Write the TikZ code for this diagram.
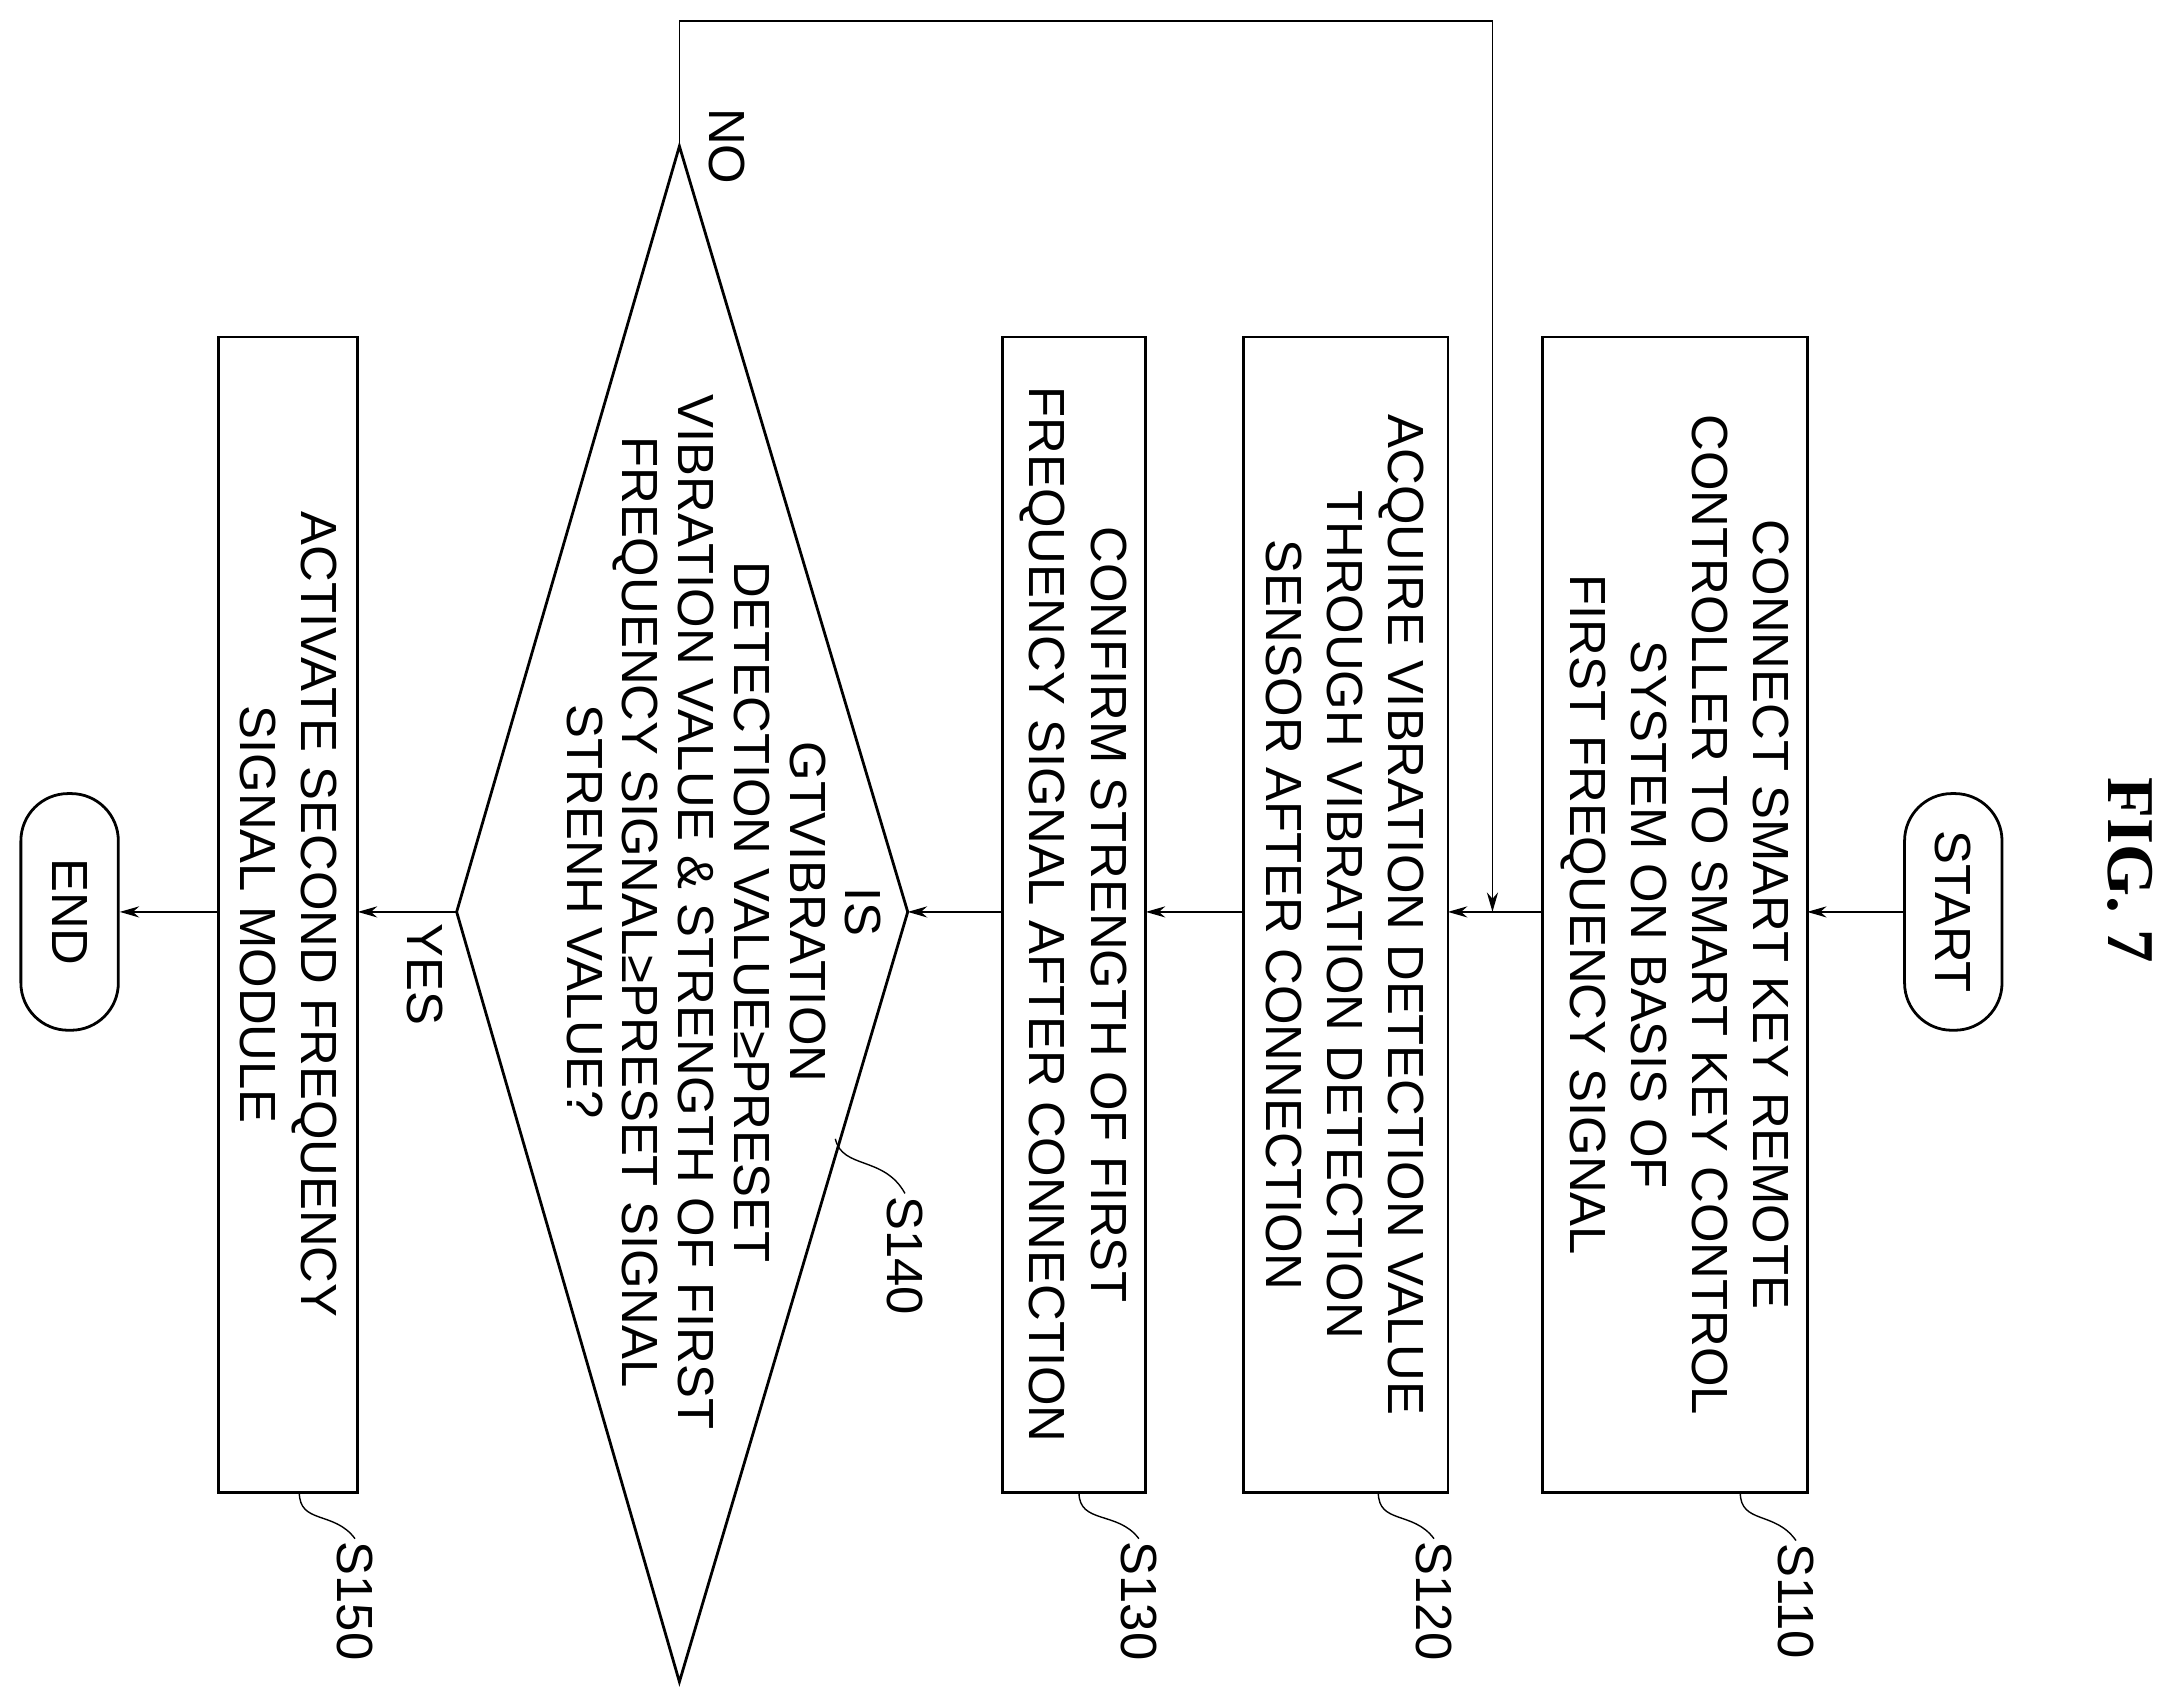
\documentclass[tikz,border=0pt]{standalone}
\usepackage{fontspec}
\setmainfont{Liberation Sans}
\newfontfamily\figfont{Liberation Serif}
\usetikzlibrary{arrows.meta}
\begin{document}
\begin{tikzpicture}[x=1pt,y=-1pt,
  every node/.style={font=\fontsize{36.5}{44}\selectfont},
  box/.style={draw,line width=2pt},
  txt/.style={rotate=-90,align=center,inner sep=0},
  term/.style={draw,line width=2pt,rounded corners=34pt,rotate=-90,minimum width=170pt,minimum height=70pt,inner sep=0},
  arr/.style={line width=1pt,-{Stealth[length=14pt,width=8pt]}},
  lead/.style={line width=1pt},
  lab/.style={rotate=-90,inner sep=2pt}]
\useasboundingbox (0,0) rectangle (1568,1223);
\node[rotate=-90,font=\figfont\fontsize{48}{50}\selectfont\bfseries] (fig) at (1530,625) {FIG. 7};
\node[term] (start) at (1403,655) {START};
\node[term] (end) at (50,655) {END};
\draw[box] (1108,242) rectangle (1298,1072);
\draw[box] (893,242) rectangle (1040,1072);
\draw[box] (720,242) rectangle (823,1072);
\draw[box] (157,242) rectangle (257,1072);
\coordinate (b1r) at (1298,655); \coordinate (b1l) at (1108,655);
\coordinate (b2r) at (1040,655); \coordinate (b2l) at (893,655);
\coordinate (b3r) at (823,655); \coordinate (b3l) at (720,655);
\coordinate (b5r) at (257,655); \coordinate (b5l) at (157,655);
\coordinate (dt) at (488,105); \coordinate (dr) at (652,655);
\coordinate (dl) at (328,655); \coordinate (db) at (488,1208);
\draw[line width=2pt] (dt) -- (dr) -- (db) -- (dl) -- cycle;
\node[txt] (t1) at (1203,657) {CONNECT SMART KEY REMOTE\\CONTROLLER TO SMART KEY CONTROL\\SYSTEM ON BASIS OF\\FIRST FREQUENCY SIGNAL};
\node[txt] (t2) at (966,657) {ACQUIRE VIBRATION DETECTION VALUE\\THROUGH VIBRATION DETECTION\\SENSOR AFTER CONNECTION};
\node[txt] (t3) at (771,657) {CONFIRM STRENGTH OF FIRST\\FREQUENCY SIGNAL AFTER CONNECTION};
\node[txt,font=\fontsize{36.5}{40}\selectfont] (t4) at (520,655) {IS\\GTVIBRATION\\DETECTION VALUE≥PRESET\\VIBRATION VALUE \& STRENGTH OF FIRST\\FREQUENCY SIGNAL≥PRESET SIGNAL\\STRENH VALUE?};
\node[txt] (t5) at (207,657) {ACTIVATE SECOND FREQUENCY\\SIGNAL MODULE};
\draw[arr] (start) -- (b1r);
\draw[arr] (b1l) -- (b2r);
\draw[arr] (b2l) -- (b3r);
\draw[arr] (b3l) -- (dr);
\draw[arr] (dl) -- (b5r);
\draw[arr] (b5l) -- (end);
\coordinate (c1) at (488,15); \coordinate (c2) at (1072,15); \coordinate (c3) at (1072,655);
\draw[arr] (dt) -- (c1) -- (c2) -- (c3);
\node[lab] (no) at (522,105) {NO};
\node[lab] (yes) at (305,700) {YES};
\node[lab] (s110) at (1290,1150) {S110};
\node[lab] (s120) at (1030,1150) {S120};
\node[lab] (s130) at (818,1150) {S130};
\node[lab] (s150) at (255,1150) {S150};
\node[lab] (s140) at (650,902) {S140};
\draw[lead] (1250,1072) .. controls (1250,1095) and (1275,1085) .. (s110.west);
\draw[lead] (990,1072) .. controls (990,1095) and (1015,1085) .. (s120.west);
\draw[lead] (775,1072) .. controls (775,1095) and (803,1085) .. (s130.west);
\draw[lead] (215,1072) .. controls (215,1095) and (240,1085) .. (s150.west);
\draw[lead] (600,818) .. controls (605,840) and (635,830) .. (s140.west);
\end{tikzpicture}
\end{document}
